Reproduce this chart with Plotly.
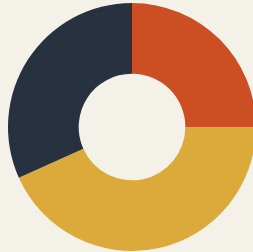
import plotly.graph_objects as go

labels = ["A", "B", "C"]
values = [25, 43.3, 31.7]
colors = ["#cc4f24", "#dcaa3a", "#283140"]

W, H = 256, 252
fig = go.Figure(go.Pie(
    labels=labels,
    values=values,
    marker=dict(colors=colors, line=dict(width=0)),
    hole=0.43,
    sort=False,
    direction="clockwise",
    rotation=0,
    textinfo="none",
    hoverinfo="none",
    domain=dict(x=[8/W, 1], y=[1/H, 249/H]),
))
fig.update_layout(
    width=W, height=H,
    margin=dict(l=0, r=0, t=0, b=0),
    paper_bgcolor="#f3f1e8",
    plot_bgcolor="#f3f1e8",
    showlegend=False,
)
fig.write_html(
    "out.html",
    config={"displayModeBar": False},
    post_script="document.documentElement.style.overflow='hidden';document.body.style.margin='0';document.body.style.overflow='hidden';document.body.style.background='#f3f1e8';",
)
